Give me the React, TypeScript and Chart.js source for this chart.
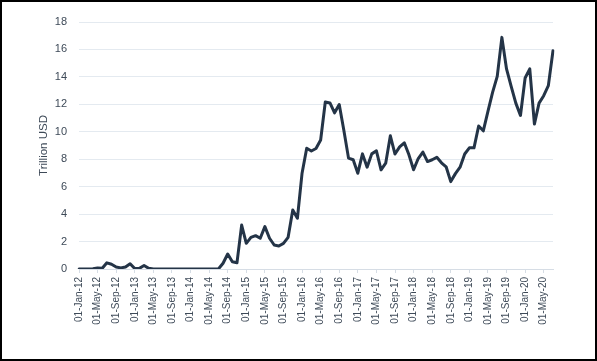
import { useEffect, useRef } from 'react';
import { Chart, registerables } from 'chart.js';

Chart.register(...registerables);

// ---- data ----
const MONTH_NAMES = ['Jan', 'Feb', 'Mar', 'Apr', 'May', 'Jun', 'Jul', 'Aug', 'Sep', 'Oct', 'Nov', 'Dec'];
const START_YEAR = 2012;
const LABEL_EVERY = 4;
const Y_MIN = 0;
const Y_MAX = 18;
const Y_STEP = 2;
const Y_TITLE = 'Trillion USD';

// Monthly values, Jan-2012 .. Jul-2020 (trillion USD)
const VALUES_2012 = [0, 0, 0, 0.02, 0.08, 0.05, 0.45, 0.35, 0.15, 0.08, 0.15, 0.38];
const VALUES_2013 = [0.03, 0.05, 0.25, 0.05, 0, 0, 0, 0, 0, 0, 0, 0];
const VALUES_2014 = [0, 0, 0, 0, 0, 0, 0, 0.42, 1.09, 0.53, 0.46, 3.2];
const VALUES_2015 = [1.87, 2.3, 2.43, 2.24, 3.09, 2.24, 1.75, 1.68, 1.87, 2.31, 4.3, 3.7];
const VALUES_2016 = [6.98, 8.8, 8.6, 8.78, 9.4, 12.17, 12.1, 11.38, 11.98, 10.1, 8.08, 7.96];
const VALUES_2017 = [6.98, 8.39, 7.42, 8.39, 8.61, 7.23, 7.71, 9.71, 8.38, 8.9, 9.2, 8.32];
const VALUES_2018 = [7.23, 8.05, 8.52, 7.83, 7.96, 8.14, 7.74, 7.45, 6.37, 6.95, 7.42, 8.38];
const VALUES_2019 = [8.83, 8.83, 10.42, 10.07, 11.48, 12.87, 14.04, 16.88, 14.58, 13.31, 12.09, 11.19];
const VALUES_2020 = [13.92, 14.58, 10.56, 12.09, 12.63, 13.36, 15.91];

const VALUES = [
  ...VALUES_2012, ...VALUES_2013, ...VALUES_2014, ...VALUES_2015, ...VALUES_2016,
  ...VALUES_2017, ...VALUES_2018, ...VALUES_2019, ...VALUES_2020,
];

const LABELS = VALUES.map((_, i) => {
  const yy = String((START_YEAR + Math.floor(i / 12)) % 100).padStart(2, '0');
  return `01-${MONTH_NAMES[i % 12]}-${yy}`;
});

// ---- styles ----
const W = 597;
const H = 361;
const LINE_COLOR = '#243447';
const TEXT_COLOR = '#3e4a58';
const GRID_COLOR = '#e4eaf0';
const AXIS_COLOR = '#d6dde5';
const FONT = "'Liberation Sans', Arial, sans-serif";

export default function App() {
  const canvasRef = useRef<HTMLCanvasElement | null>(null);

  useEffect(() => {
    const canvas = canvasRef.current;
    if (!canvas) return;
    const chart = new Chart(canvas, {
      type: 'line',
      data: {
        labels: LABELS,
        datasets: [
          {
            data: VALUES,
            borderColor: LINE_COLOR,
            backgroundColor: LINE_COLOR,
            borderWidth: 3,
            pointRadius: 0,
            tension: 0,
            fill: false,
            borderJoinStyle: 'round',
            borderCapStyle: 'round',
          },
        ],
      },
      options: {
        animation: false,
        responsive: false,
        devicePixelRatio: 1,
        layout: { padding: { top: 22, right: 44, bottom: 0, left: 0 } },
        plugins: { legend: { display: false }, tooltip: { enabled: false } },
        scales: {
          x: {
            type: 'category',
            offset: false,
            grid: {
              display: true,
              drawOnChartArea: false,
              drawTicks: true,
              tickLength: 4,
              tickColor: (ctx: any) => (ctx.index % LABEL_EVERY === 0 ? AXIS_COLOR : 'rgba(0,0,0,0)'),
              color: AXIS_COLOR,
            },
            border: { display: true, color: AXIS_COLOR, width: 1 },
            ticks: {
              autoSkip: false,
              maxRotation: 90,
              minRotation: 90,
              padding: 4,
              color: TEXT_COLOR,
              font: { family: FONT, size: 10 },
              callback: (_v: any, i: number) => (i % LABEL_EVERY === 0 ? LABELS[i] : ''),
            },
            afterFit: (s: any) => {
              s.height = 92;
            },
          },
          y: {
            min: Y_MIN,
            max: Y_MAX,
            ticks: {
              stepSize: Y_STEP,
              padding: 12,
              color: TEXT_COLOR,
              font: { family: FONT, size: 11 },
            },
            grid: { color: GRID_COLOR, drawTicks: false, lineWidth: 1 },
            border: { display: false },
            title: {
              display: true,
              text: Y_TITLE,
              color: TEXT_COLOR,
              font: { family: FONT, size: 11.5 },
              padding: { top: 37, bottom: 0 },
            },
            afterFit: (s: any) => {
              s.width = 79;
            },
          },
        },
      },
    } as any);
    return () => chart.destroy();
  }, []);

  return (
    <div style={{ position: 'fixed', left: 0, top: 0, width: W, height: H, background: '#fff' }}>
      <canvas ref={canvasRef} width={W} height={H} style={{ display: 'block', width: W, height: H }} />
      <div
        style={{
          position: 'absolute',
          left: 0,
          top: 0,
          width: W,
          height: H,
          border: '2px solid #000',
          boxSizing: 'border-box',
          pointerEvents: 'none',
        }}
      />
    </div>
  );
}
